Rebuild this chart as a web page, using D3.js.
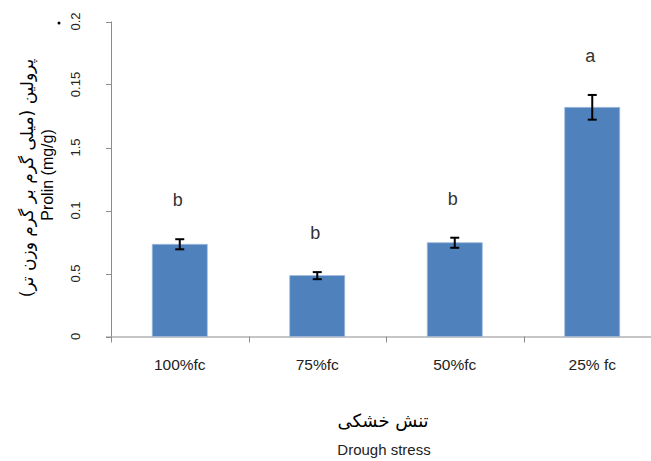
<!DOCTYPE html>
<html>
<head>
  <meta charset="UTF-8">
  <title>Prolin chart</title>
  <script src="https://cdn.jsdelivr.net/npm/d3@7"></script>
  <style>
    body { margin: 0; background: #fff; }
    text { font-family: "Liberation Sans", Arial, sans-serif; fill: #222; }
    .fa { font-family: "DejaVu Sans", "Noto Sans", sans-serif; }
  </style>
</head>
<body>
<svg id="chart" width="651" height="461"></svg>
<script>
  // data
  const categories = ['100%fc', '75%fc', '50%fc', '25% fc'];
  const values = [0.0732, 0.0483, 0.0744, 0.1819];
  const errors = [0.0040, 0.0028, 0.0040, 0.0098];
  const letters = ['b', 'b', 'b', 'a'];
  const yTicks = [0, 0.05, 0.1, 0.15, 0.2, 0.25];
  const yTickLabels = ['0', '0.5', '0.1', '1.5', '0.15', '0.2'];

  const svg = d3.select('#chart');
  const axisColor = '#8c8c8c';

  const x = d3.scaleBand().domain(categories).range([111, 661]).paddingInner(0.6).paddingOuter(0.3);
  const y = d3.scaleLinear().domain([0, 0.25]).range([336.5, 21.5]);

  // y axis line + ticks
  svg.append('line')
    .attr('x1', 111.5).attr('x2', 111.5).attr('y1', y(0.25)).attr('y2', y(0))
    .attr('stroke', axisColor);
  svg.selectAll('.ytick').data(yTicks).enter().append('line')
    .attr('x1', 106).attr('x2', 111.5)
    .attr('y1', d => Math.round(y(d)) + 0.5).attr('y2', d => Math.round(y(d)) + 0.5)
    .attr('stroke', axisColor);
  svg.selectAll('.ylab').data(yTicks).enter().append('text')
    .attr('transform', d => `translate(80,${y(d)}) rotate(-90)`)
    .attr('text-anchor', 'middle')
    .style('font-size', '13px')
    .text((d, i) => yTickLabels[i]);

  // x axis line + ticks at category boundaries
  const step = x.step();
  const bounds = d3.range(categories.length + 1).map(i => 111 + i * step);
  svg.append('line')
    .attr('x1', 106).attr('x2', 651).attr('y1', y(0) + 0.5).attr('y2', y(0) + 0.5)
    .attr('stroke', axisColor);
  svg.selectAll('.xtick').data(bounds).enter().append('line')
    .attr('x1', d => Math.round(d) + 0.5).attr('x2', d => Math.round(d) + 0.5)
    .attr('y1', y(0)).attr('y2', y(0) + 6)
    .attr('stroke', axisColor);
  svg.selectAll('.xlab').data(categories).enter().append('text')
    .attr('x', d => x(d) + x.bandwidth() / 2)
    .attr('y', 370)
    .attr('text-anchor', 'middle')
    .style('font-size', '15.5px')
    .text(d => d);

  // bars
  svg.selectAll('.bar').data(values).enter().append('rect')
    .attr('x', (d, i) => x(categories[i]))
    .attr('width', x.bandwidth())
    .attr('y', d => y(d))
    .attr('height', d => y(0) - y(d))
    .attr('fill', '#4f81bd')
    .attr('stroke', '#9fb9dc')
    .attr('stroke-width', 0.8);

  // error bars
  const err = svg.selectAll('.err').data(values).enter().append('g')
    .attr('stroke', '#000').attr('stroke-width', 2);
  err.append('line')
    .attr('x1', (d, i) => x(categories[i]) + x.bandwidth() / 2)
    .attr('x2', (d, i) => x(categories[i]) + x.bandwidth() / 2)
    .attr('y1', (d, i) => y(d + errors[i]))
    .attr('y2', (d, i) => y(d - errors[i]));
  ['+', '-'].forEach(s => {
    err.append('line')
      .attr('x1', (d, i) => x(categories[i]) + x.bandwidth() / 2 - 4.5)
      .attr('x2', (d, i) => x(categories[i]) + x.bandwidth() / 2 + 4.5)
      .attr('y1', (d, i) => y(s === '+' ? d + errors[i] : d - errors[i]))
      .attr('y2', (d, i) => y(s === '+' ? d + errors[i] : d - errors[i]));
  });

  // significance letters
  svg.selectAll('.letter').data(values).enter().append('text')
    .attr('x', (d, i) => x(categories[i]) + x.bandwidth() / 2 - 2)
    .attr('y', (d, i) => y(d + errors[i]) - 33)
    .attr('text-anchor', 'middle')
    .style('font-size', '18px')
    .style('fill', '#333')
    .text((d, i) => letters[i]);

  // axis titles
  svg.append('text').attr('class', 'fa')
    .attr('transform', 'translate(33,178) rotate(-90)')
    .attr('text-anchor', 'middle')
    .style('font-size', '17px')
    .style('fill', '#000')
    .text('پرولین (میلی گرم بر گرم وزن تر)');
  svg.append('text')
    .attr('transform', 'translate(53,175) rotate(-90)')
    .attr('text-anchor', 'middle')
    .style('font-size', '16px')
    .style('fill', '#000')
    .text('Prolin (mg/g)');

  svg.append('text').attr('class', 'fa')
    .attr('x', 383).attr('y', 427)
    .attr('text-anchor', 'middle')
    .style('font-size', '18px')
    .style('fill', '#000')
    .text('تنش خشکی');
  svg.append('text')
    .attr('x', 384).attr('y', 455)
    .attr('text-anchor', 'middle')
    .style('font-size', '15px')
    .text('Drough stress');

  // stray dot near the top label
  svg.append('circle').attr('cx', 59).attr('cy', 23).attr('r', 1.5).attr('fill', '#000');
</script>
</body>
</html>
